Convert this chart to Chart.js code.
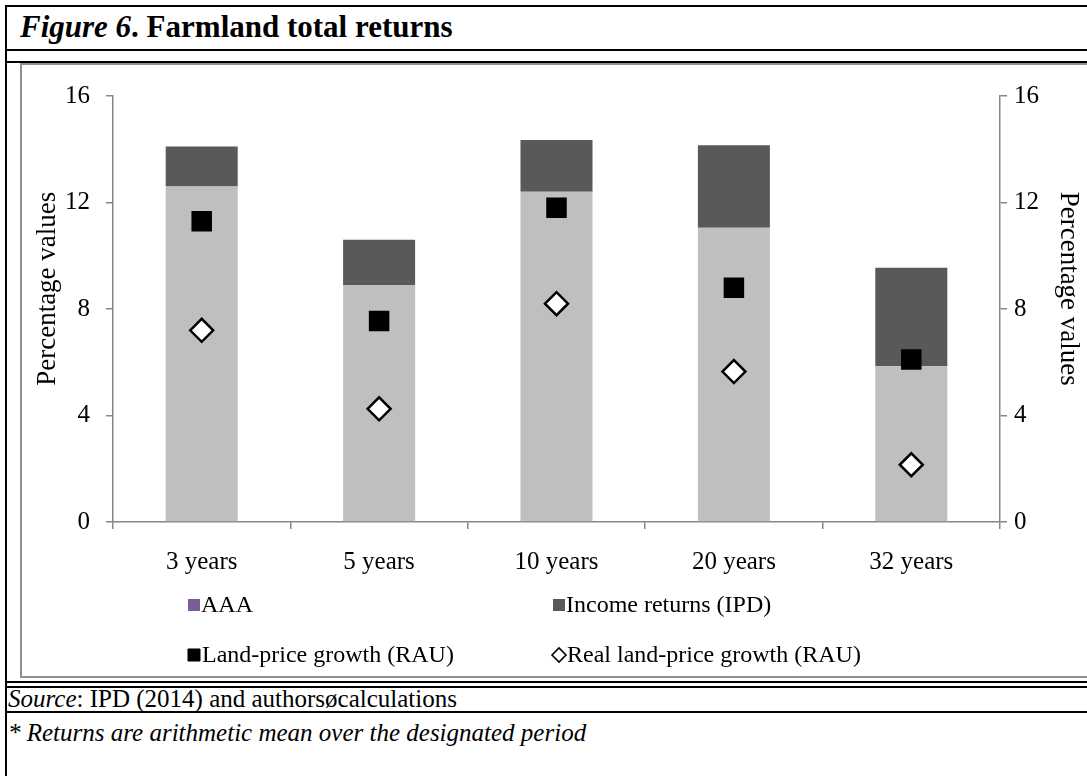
<!DOCTYPE html>
<html>
<head>
<meta charset="utf-8">
<script src="https://cdn.jsdelivr.net/npm/chart.js@4.4.1/dist/chart.umd.min.js"></script>
<style>
  html,body{margin:0;padding:0;background:#fff;}
  body{width:1087px;height:776px;overflow:hidden;position:relative;font-family:"Liberation Serif","Times New Roman",serif;color:#000;}
  .hl{position:absolute;left:5px;width:1082px;height:2px;background:#000;}
  .vl{position:absolute;left:5px;top:5px;width:2px;height:771px;background:#000;}
  #title{position:absolute;left:20px;top:9px;font-size:31px;font-weight:bold;line-height:36px;white-space:nowrap;}
  #box{position:absolute;left:20px;top:63px;width:1090px;height:615px;border:2px solid #8f8f8f;box-sizing:border-box;}
  #cv{position:absolute;left:22px;top:65px;}
  .note{position:absolute;left:8px;font-size:25px;line-height:26px;white-space:nowrap;}
</style>
</head>
<body>
<div class="hl" style="top:5px"></div>
<div class="vl"></div>
<div id="title"><i>Figure 6</i>. Farmland total returns</div>
<div class="hl" style="top:49px"></div>
<div class="hl" style="top:61px"></div>
<div id="box"></div>
<canvas id="cv" width="1065" height="612"></canvas>
<div class="hl" style="top:681px"></div>
<div class="hl" style="top:686px"></div>
<div class="note" style="top:686px"><i>Source</i>: IPD (2014) and authorsøcalculations</div>
<div class="hl" style="top:711px"></div>
<div class="note" style="top:720px"><i>* Returns are arithmetic mean over the designated period</i></div>

<script>
// ---- data ----
const categories = ['3 years', '5 years', '10 years', '20 years', '32 years'];
const capitalGrowth = [12.6, 8.9, 12.4, 11.05, 5.85];      // light grey bar segment
const aaaSeries = [null, null, null, null, null];            // legend-only series
const incomeReturns = [1.5, 1.7, 1.95, 3.1, 3.7];            // dark grey bar segment
const landPriceGrowth = [11.3, 7.55, 11.8, 8.8, 6.1];        // black squares
const realLandPriceGrowth = [7.2, 4.25, 8.2, 5.65, 2.15];    // open diamonds
const yTicks = [0, 4, 8, 12, 16];
const axisTitle = 'Percentage values';

const FONT = '"Liberation Serif", "Times New Roman", serif';
const AXIS = '#868686';
const tickFont = {family: FONT, size: 25};
const titleFont = {family: FONT, size: 27};
const PAD = '\u00a0'.repeat(6); // nudges the axis titles slightly above the axis centre, as in the reference

function build() {
  new Chart(document.getElementById('cv'), {
    data: {
      labels: categories,
      datasets: [
        {type: 'line', label: 'Land-price growth (RAU)', data: landPriceGrowth, yAxisID: 'y1',
         showLine: false, pointStyle: 'rect', pointRadius: 14.5, pointHoverRadius: 14.5,
         backgroundColor: '#000000', borderColor: '#000000', pointBorderWidth: 0, order: 0, inLegend: true, legendOrder: 3},
        {type: 'line', label: 'Real land-price growth (RAU)', data: realLandPriceGrowth, yAxisID: 'y1',
         showLine: false, pointStyle: 'rectRot', pointRadius: 11.5, pointHoverRadius: 11.5,
         backgroundColor: '#ffffff', borderColor: '#000000', pointBorderWidth: 2.5, order: 0, inLegend: true, legendOrder: 4},
        {type: 'bar', label: 'Capital growth', data: capitalGrowth, yAxisID: 'y',
         backgroundColor: '#bfbfbf', order: 1, inLegend: false},
        {type: 'bar', label: 'AAA', data: aaaSeries, yAxisID: 'y',
         backgroundColor: '#7b5e99', order: 1, inLegend: true, legendOrder: 1},
        {type: 'bar', label: 'Income returns (IPD)', data: incomeReturns, yAxisID: 'y',
         backgroundColor: '#595959', order: 1, inLegend: true, legendOrder: 2}
      ]
    },
    options: {
      responsive: false,
      animation: false,
      devicePixelRatio: 1,
      layout: {padding: {top: 27, bottom: 95, left: 0, right: 0}},
      datasets: {bar: {categoryPercentage: 1, barPercentage: 0.406}},
      plugins: {legend: {display: false}, tooltip: {enabled: false}},
      scales: {
        x: {
          stacked: true,
          grid: {display: true, drawOnChartArea: false, drawTicks: true, tickLength: 7, color: AXIS, lineWidth: 1.5, offset: true},
          border: {color: AXIS, width: 1.5},
          ticks: {color: '#000', font: tickFont, padding: 18, maxRotation: 0},
          afterFit: s => { s.height = 60; }
        },
        y: {
          position: 'left', stacked: true, min: 0, max: 16,
          afterBuildTicks: s => { s.ticks = yTicks.map(v => ({value: v})); },
          grid: {drawOnChartArea: false, tickLength: 7, color: AXIS, lineWidth: 1.5},
          border: {color: AXIS, width: 1.5},
          ticks: {color: '#000', font: tickFont, padding: 16},
          title: {display: true, text: PAD + axisTitle, color: '#000', font: titleFont, padding: {top: 10, bottom: 0}},
          afterFit: s => { s.width = 91; }
        },
        y1: {
          position: 'right', min: 0, max: 16,
          afterBuildTicks: s => { s.ticks = yTicks.map(v => ({value: v})); },
          grid: {drawOnChartArea: false, tickLength: 7, color: AXIS, lineWidth: 1.5},
          border: {color: AXIS, width: 1.5},
          ticks: {color: '#000', font: tickFont, padding: 7},
          title: {display: true, text: axisTitle + PAD, color: '#000', font: titleFont, padding: {top: 3, bottom: 0}},
          afterFit: s => { s.width = 87; }
        }
      }
    },
    plugins: [{
      id: 'legendGrid',
      afterDraw(chart) {
        const items = chart.data.datasets.filter(d => d.inLegend).sort((a, b) => a.legendOrder - b.legendOrder);
        const ctx = chart.ctx;
        const cols = [166, 531];
        const rows = [540, 590];
        ctx.save();
        ctx.font = '24px ' + FONT;
        ctx.textBaseline = 'middle';
        ctx.textAlign = 'left';
        items.forEach((d, i) => {
          const x = cols[i % 2];
          const y = rows[Math.floor(i / 2)];
          let tx;
          if (d.type === 'line') {
            const isDiamond = d.pointStyle === 'rectRot';
            ctx.fillStyle = d.backgroundColor;
            ctx.strokeStyle = d.borderColor;
            ctx.lineWidth = isDiamond ? 1.6 : 0;
            Chart.helpers.drawPoint(ctx, {pointStyle: d.pointStyle, radius: isDiamond ? 7 : 8.5, borderWidth: ctx.lineWidth, rotation: 0}, x + 6, y);
            tx = x + 14;
          } else {
            ctx.fillStyle = d.backgroundColor;
            ctx.fillRect(x, y - 6, 12, 12);
            tx = x + 13;
          }
          ctx.fillStyle = '#000';
          ctx.fillText(d.label, tx, y + 1);
        });
        ctx.restore();
      }
    }]
  });
}

const fontLoads = [
  '25px "Liberation Serif"', '27px "Liberation Serif"', '24px "Liberation Serif"',
  'italic 25px "Liberation Serif"', 'bold 31px "Liberation Serif"', 'italic bold 31px "Liberation Serif"'
].map(f => document.fonts.load(f));
Promise.all(fontLoads).then(build, build);
</script>
</body>
</html>
